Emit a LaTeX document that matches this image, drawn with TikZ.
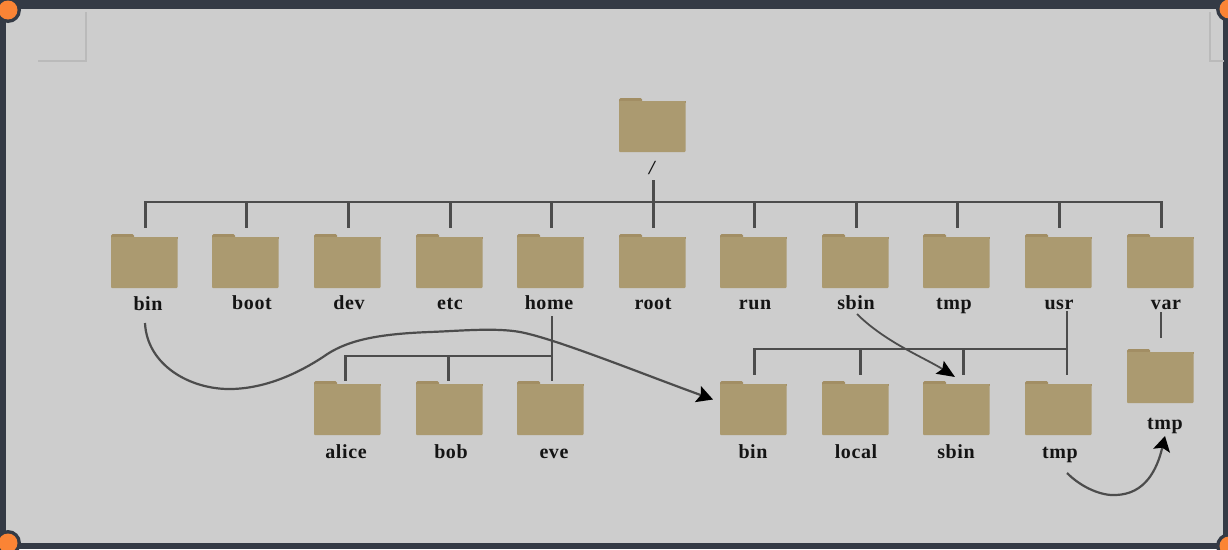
\documentclass[tikz,border=0pt]{standalone}
\usepackage{fontspec}
\setmainfont{Liberation Serif}[LetterSpace=3]
\usetikzlibrary{arrows.meta,calc}
\definecolor{bgc}{HTML}{CDCDCD}
\definecolor{framec}{HTML}{343A45}
\definecolor{orangec}{HTML}{FB8435}
\definecolor{markc}{HTML}{BABABA}
\definecolor{bodyc}{HTML}{AB9A70}
\definecolor{tabc}{HTML}{A28E64}
\definecolor{linec}{HTML}{4C4C4C}
\tikzset{
  x=1pt,y=-1pt,
  folderbox/.style={fill=bodyc,draw=none,rounded corners=0.8pt,minimum width=66.5pt,minimum height=51pt,inner sep=0pt,outer sep=0pt,anchor=north west,
    append after command={\pgfextra{\fill[tabc,rounded corners=1.5pt] ([yshift=3pt]\tikzlastnode.north west) rectangle ([xshift=23pt,yshift=-4.5pt]\tikzlastnode.north west);
    \fill[tabc] (\tikzlastnode.north west) rectangle ([yshift=-2pt]\tikzlastnode.north east);}}},
  tag/.style={font=\fontsize{20}{22}\selectfont\bfseries,text=black!92,inner sep=0pt,anchor=base},
  conn/.style={draw=linec,line width=2.8pt,line cap=butt},
  flow/.style={draw=linec,line width=2.2pt},
  crop/.style={draw=markc,line width=1.3pt},
}
\newcommand{\folderat}[6]{%
  \node[folderbox] (f#1) at (#2,#3) {};
  \node[tag] (t#1) at (#4,#5) {#6};
}
\begin{document}
\begin{tikzpicture}
\useasboundingbox (0,0) rectangle (1228,549);
\fill[framec] (0,0) rectangle (1228,549);
\fill[bgc] (6,9) rectangle (1223,543);
\draw[crop] (38,61) -- (86,61) -- (86,12);
\draw[crop] (1224,61) -- (1210,61) -- (1210,12);
% folders
\folderat{root}{619}{101}{653}{174}{\textit{/}}
\folderat{bin}{111}{237}{148}{310}{bin}
\folderat{boot}{212}{237}{252}{309}{boot}
\folderat{dev}{314}{237}{349}{309}{dev}
\folderat{etc}{416}{237}{450}{309}{etc}
\folderat{home}{517}{237}{549}{309}{home}
\folderat{rootd}{619}{237}{653}{309}{root}
\folderat{run}{720}{237}{755}{309}{run}
\folderat{sbin}{822}{237}{856}{309}{sbin}
\folderat{tmp}{923}{237}{954}{309}{tmp}
\folderat{usr}{1025}{237}{1059}{309}{usr}
\folderat{var}{1127}{237}{1166}{309}{var}
\folderat{alice}{314}{384}{346}{458}{alice}
\folderat{bob}{416}{384}{451}{458}{bob}
\folderat{eve}{517}{384}{554}{458}{eve}
\folderat{ubin}{720}{384}{753}{458}{bin}
\folderat{local}{822}{384}{856}{458}{local}
\folderat{usbin}{923}{384}{956}{458}{sbin}
\folderat{utmp}{1025}{384}{1060}{458}{tmp}
\folderat{vtmp}{1127}{352}{1165}{429}{tmp}
% main bus
\coordinate (bus) at (0,202);
\coordinate (rstart) at (653.5,180);
\draw[conn] (rstart) -- (rstart |- bus);
\draw[conn,line cap=rect] ([xshift=1.5pt]fbin.north |- bus) -- ([xshift=1.5pt]fvar.north |- bus);
\foreach \n in {bin,boot,dev,etc,home,rootd,run,sbin,tmp,usr,var}{
  \draw[conn] ([xshift=1.5pt]f\n.north |- bus) -- ([xshift=1.5pt,yshift=9pt]f\n.north);
}
% home subtree
\coordinate (hbus) at (0,356);
\coordinate (hx) at (552,316);
\draw[conn] (hx) -- ([yshift=3pt]hx |- feve.north);
\draw[conn] (hx |- hbus) -- ([xshift=-2pt]falice.north |- hbus) -- ([xshift=-2pt,yshift=3pt]falice.north);
\draw[conn] ([xshift=-1pt]fbob.north |- hbus) -- ([xshift=-1pt,yshift=3pt]fbob.north);
% usr subtree
\coordinate (ubus) at (0,349);
\coordinate (ux) at (1067,311);
\draw[conn] (ux) -- ([yshift=9pt]ux |- futmp.north);
\draw[conn] (ux |- ubus) -- ([xshift=1.5pt]fubin.north |- ubus) -- ([xshift=1.5pt,yshift=9pt]fubin.north);
\draw[conn] ([xshift=5pt]flocal.north |- ubus) -- ([xshift=5pt,yshift=9pt]flocal.north);
\draw[conn] ([xshift=7.5pt]fusbin.north |- ubus) -- ([xshift=7.5pt,yshift=9pt]fusbin.north);
% var -> tmp
\coordinate (vx) at (1161,312);
\draw[conn] (vx) -- ([yshift=14pt]vx |- fvtmp.north);
% curved arrows
\coordinate (c1s) at (145,323);
\coordinate (c1e) at (713,399.5);
\draw[flow,-{Stealth[length=16pt,width=17pt,inset=3pt,color=black]}] (c1s) .. controls (147,365) and (190,390) .. (232,389)
  .. controls (268,388) and (300,372) .. (323,357)
  .. controls (345,341) and (375,334) .. (430,332)
  .. controls (460,330.9) and (495,327.5) .. (520,332)
  .. controls (555,338.5) and (640,373) .. (c1e);
\coordinate (c2s) at (857,314);
\coordinate (c2e) at (955,377);
\draw[flow,line width=1.8pt,-{Stealth[length=18pt,width=15pt,inset=3pt,color=black]}] (c2s) .. controls (885,342) and (925,358) .. (c2e);
\coordinate (c3s) at (1067,473);
\coordinate (c3e) at (1165,436);
\draw[flow,-{Stealth[length=15pt,width=17pt,inset=3pt,color=black]}] (c3s) .. controls (1082,488) and (1102,496) .. (1116,495)
  .. controls (1145,494) and (1157,470) .. (c3e);
% corners
\begin{scope}
\clip (0,0) rectangle (1228,549);
\foreach \p/\q in {8/10,1229/9,8/543,1229/546}{
  \fill[framec] (\p,\q) circle[radius=13];
  \fill[orangec] (\p,\q) circle[radius=9.5];
}
\end{scope}
\end{tikzpicture}
\end{document}
